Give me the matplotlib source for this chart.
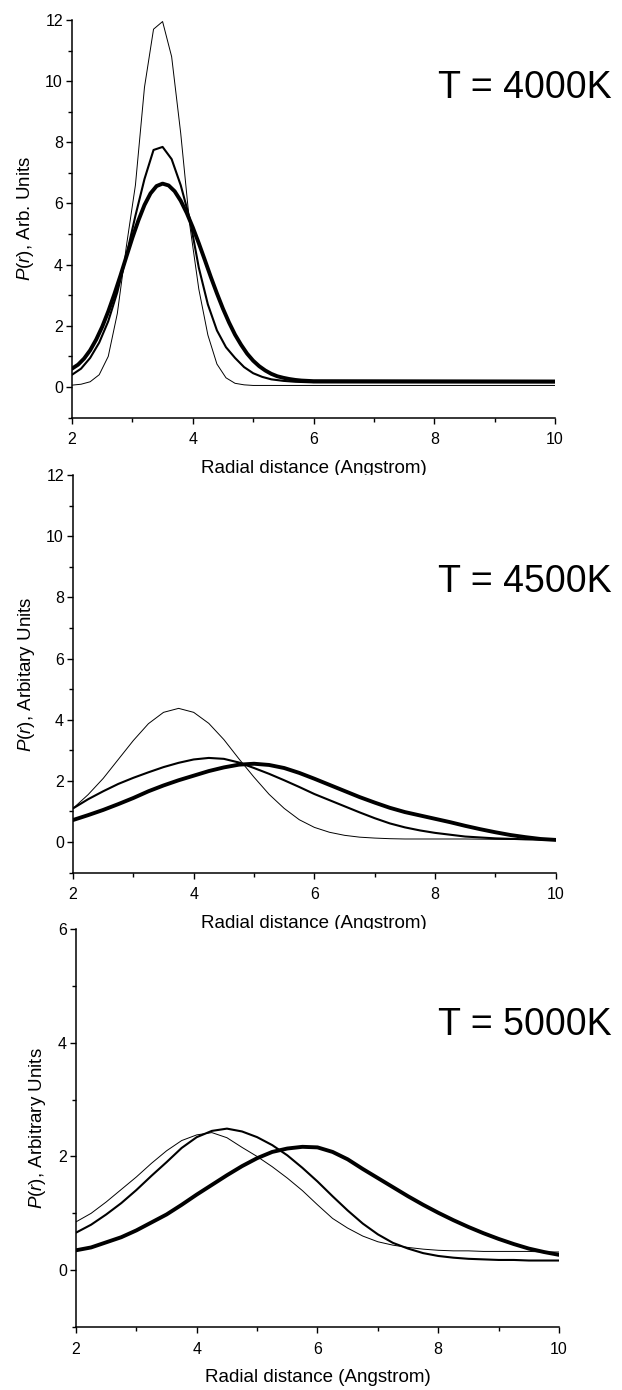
import matplotlib
matplotlib.use("Agg")
import matplotlib.pyplot as plt
from matplotlib.ticker import MultipleLocator

plt.rcParams['font.family'] = ['Liberation Sans', 'DejaVu Sans']
plt.rcParams['mathtext.fontset'] = 'custom'
plt.rcParams['mathtext.rm'] = 'Liberation Sans'
plt.rcParams['mathtext.it'] = 'Liberation Sans:italic'

# ---- T = 4000K ----
x1 = [2.0, 2.15, 2.3, 2.45, 2.6, 2.75, 2.9, 3.05, 3.2, 3.35, 3.5, 3.65, 3.8, 3.95,
      4.1, 4.25, 4.4, 4.55, 4.7, 4.85, 5.0, 5.15, 5.3, 5.5, 5.7, 6.0, 10.0]
thin1 = [0.06, 0.09, 0.17, 0.4, 1.0, 2.4, 4.6, 6.6, 9.8, 11.7, 11.95, 10.8, 8.3, 5.3,
         3.2, 1.7, 0.75, 0.3, 0.12, 0.07, 0.05, 0.05, 0.05, 0.05, 0.05, 0.05, 0.05]
mid1 = [0.4, 0.6, 0.95, 1.45, 2.15, 3.1, 4.3, 5.6, 6.8, 7.75, 7.85, 7.45, 6.6, 5.5,
        3.9, 2.7, 1.85, 1.3, 0.95, 0.65, 0.45, 0.33, 0.25, 0.2, 0.17, 0.15, 0.15]
x1_thick = [2.0, 2.1, 2.2, 2.3, 2.4, 2.5, 2.6, 2.7, 2.8, 2.9, 3.0, 3.1, 3.2, 3.3, 3.4,
            3.5, 3.6, 3.7, 3.8, 3.9, 4.0, 4.1, 4.2, 4.3, 4.4, 4.5, 4.6, 4.7, 4.8, 4.9,
            5.0, 5.1, 5.2, 5.3, 5.4, 5.5, 5.6, 5.7, 5.8, 6.0, 10.0]
thick1 = [0.6, 0.73, 0.93, 1.2, 1.55, 1.97, 2.47, 3.03, 3.63, 4.26, 4.88, 5.45, 5.95, 6.33, 6.57,
          6.65, 6.59, 6.4, 6.09, 5.69, 5.22, 4.7, 4.15, 3.59, 3.06, 2.56, 2.11, 1.71, 1.38, 1.09,
          0.86, 0.68, 0.54, 0.43, 0.35, 0.3, 0.26, 0.23, 0.21, 0.19, 0.18]

# ---- T = 4500K ----
x2_thin = [2.0, 2.25, 2.5, 2.75, 3.0, 3.25, 3.5, 3.75, 4.0, 4.25, 4.5, 4.75, 5.0, 5.25,
           5.5, 5.75, 6.0, 6.25, 6.5, 6.75, 7.0, 7.25, 7.5, 8.0, 8.5, 9.0, 9.5, 10.0]
thin2 = [1.1, 1.55, 2.08, 2.7, 3.32, 3.87, 4.24, 4.37, 4.24, 3.88, 3.35, 2.72, 2.12, 1.56,
         1.1, 0.73, 0.48, 0.32, 0.22, 0.16, 0.13, 0.11, 0.1, 0.1, 0.1, 0.09, 0.08, 0.07]
x2_mid = [2.0, 2.25, 2.5, 2.75, 3.0, 3.25, 3.5, 3.75, 4.0, 4.25, 4.5, 4.75, 5.0, 5.25,
          5.5, 5.75, 6.0, 6.25, 6.5, 6.75, 7.0, 7.25, 7.5, 7.75, 8.0, 8.5, 9.0, 9.5, 10.0]
mid2 = [1.1, 1.4, 1.66, 1.9, 2.1, 2.28, 2.45, 2.59, 2.7, 2.75, 2.72, 2.6, 2.42, 2.23,
        2.02, 1.8, 1.57, 1.37, 1.17, 0.97, 0.78, 0.61, 0.48, 0.38, 0.3, 0.18, 0.12, 0.09, 0.07]
x2_thick = [2.0, 2.25, 2.5, 2.75, 3.0, 3.25, 3.5, 3.75, 4.0, 4.25, 4.5, 4.75, 5.0, 5.25,
            5.5, 5.75, 6.0, 6.25, 6.5, 6.75, 7.0, 7.25, 7.5, 7.75, 8.0, 8.25, 8.5, 8.75,
            9.0, 9.25, 9.5, 9.75, 10.0]
thick2 = [0.72, 0.88, 1.05, 1.24, 1.44, 1.66, 1.85, 2.02, 2.17, 2.32, 2.44, 2.53, 2.56, 2.52,
          2.42, 2.26, 2.07, 1.87, 1.67, 1.47, 1.29, 1.12, 0.98, 0.87, 0.76, 0.65, 0.53, 0.42,
          0.32, 0.23, 0.16, 0.1, 0.07]

# ---- T = 5000K ----
x3 = [2.0, 2.25, 2.5, 2.75, 3.0, 3.25, 3.5, 3.75, 4.0, 4.25, 4.5, 4.75, 5.0, 5.25, 5.5,
      5.75, 6.0, 6.25, 6.5, 6.75, 7.0, 7.25, 7.5, 7.75, 8.0, 8.25, 8.5, 8.75, 9.0, 9.25,
      9.5, 9.75, 10.0]
thin3 = [0.85, 1.0, 1.2, 1.42, 1.64, 1.88, 2.1, 2.28, 2.38, 2.42, 2.33, 2.16, 2.0, 1.82, 1.62,
         1.4, 1.15, 0.91, 0.74, 0.6, 0.5, 0.44, 0.4, 0.37, 0.35, 0.34, 0.34, 0.33, 0.33, 0.33,
         0.33, 0.32, 0.32]
mid3 = [0.66, 0.8, 0.98, 1.18, 1.41, 1.66, 1.9, 2.15, 2.34, 2.45, 2.49, 2.44, 2.34, 2.2, 2.02,
        1.8, 1.56, 1.3, 1.05, 0.82, 0.63, 0.48, 0.38, 0.3, 0.25, 0.22, 0.2, 0.19, 0.18, 0.18,
        0.17, 0.17, 0.17]
thick3 = [0.35, 0.4, 0.49, 0.58, 0.7, 0.84, 0.98, 1.15, 1.33, 1.5, 1.67, 1.83, 1.97, 2.08, 2.14,
          2.17, 2.16, 2.08, 1.95, 1.78, 1.62, 1.46, 1.3, 1.15, 1.01, 0.88, 0.76, 0.65, 0.55, 0.46,
          0.38, 0.32, 0.27]

panels = [
    dict(rect=[0.1158, 0.6996, 0.7765, 0.286], ylim=(-1, 12), yticks=[0, 2, 4, 6, 8, 10, 12],
         ylabel=r'$\mathit{P(r)}$, Arb. Units', title='T = 4000K', ty=0.804, tx=0.758,
         lines=[(x1, thin1, 0.7), (x1, mid1, 1.5), (x1_thick, thick1, 2.8)]),
    dict(rect=[0.1174, 0.3722, 0.776, 0.2861], ylim=(-1, 12), yticks=[0, 2, 4, 6, 8, 10, 12],
         ylabel=r'$\mathit{P(r)}$, Arbitary Units', title='T = 4500K', ty=0.7065, tx=0.757,
         lines=[(x2_thin, thin2, 0.7), (x2_mid, mid2, 1.5), (x2_thick, thick2, 2.8)]),
    dict(rect=[0.1222, 0.0453, 0.7765, 0.2863], ylim=(-1, 6), yticks=[0, 2, 4, 6],
         ylabel=r'$\mathit{P(r)}$, Arbitrary Units', title='T = 5000K', ty=0.734, tx=0.75,
         lines=[(x3, thin3, 0.7), (x3, mid3, 1.5), (x3, thick3, 2.8)]),
]

fig = plt.figure(figsize=(6.22, 13.9), dpi=100)
for p in panels:
    ax = fig.add_axes(p['rect'])
    for xs, ys, lw in p['lines']:
        ax.plot(xs, ys, color='black', lw=lw, solid_joinstyle='round', solid_capstyle='round')
    ax.set_xlim(2, 10)
    ax.set_ylim(*p['ylim'])
    ax.set_xticks([2, 4, 6, 8, 10])
    ax.set_yticks(p['yticks'])
    ax.xaxis.set_minor_locator(MultipleLocator(1))
    ax.yaxis.set_minor_locator(MultipleLocator(1))
    for s in ['top', 'right']:
        ax.spines[s].set_visible(False)
    for s in ['left', 'bottom']:
        ax.spines[s].set_linewidth(1.1)
    ax.tick_params(which='major', direction='out', length=4.5, width=1.0, labelsize=11.5, pad=2)
    ax.tick_params(which='minor', direction='out', length=2.6, width=1.0)
    ax.tick_params(axis='x', which='major', pad=6)
    ax.set_xlabel('Radial distance (Angstrom)', fontsize=13.5, labelpad=9)
    ax.set_ylabel(p['ylabel'], fontsize=13.5, labelpad=7)
    ax.text(p['tx'], p['ty'], p['title'], transform=ax.transAxes, fontsize=27, ha='left', va='baseline')

fig.savefig('out.png', dpi=100)
